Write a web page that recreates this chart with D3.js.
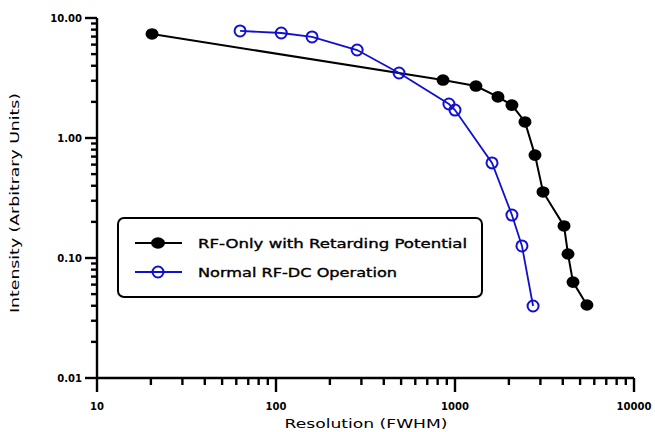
<!DOCTYPE html>
<html><head><meta charset="utf-8">
<script src="https://cdn.jsdelivr.net/npm/d3@7"></script>
<style>body{margin:0;background:#fff}svg{display:block}text{font-family:"DejaVu Sans",sans-serif}</style>
</head><body><svg id="c" width="655" height="432"></svg>
<script>
const seriesNames = ["RF-Only with Retarding Potential", "Normal RF-DC Operation"];
const seriesColors = ["#000000", "#1010d0"];
const rfOnlyX = [20.3, 857, 1309, 1738, 2080, 2460, 2798, 3103, 4065, 4278, 4563, 5458];
const rfOnlyY = [7.36, 3.04, 2.71, 2.20, 1.88, 1.36, 0.72, 0.355, 0.185, 0.108, 0.063, 0.0406];
const rfdcX = [63, 107, 159, 284, 487, 925, 1000, 1610, 2080, 2366, 2730];
const rfdcY = [7.8, 7.5, 6.95, 5.41, 3.48, 1.92, 1.71, 0.62, 0.228, 0.126, 0.0398];
const xTickValues = [10, 100, 1000, 10000];
const xTickLabels = ["10", "100", "1000", "10000"];
const yTickValues = [0.01, 0.1, 1, 10];
const yTickLabels = ["0.01", "0.10", "1.00", "10.00"];
const xTitle = "Resolution (FWHM)";
const yTitle = "Intensity (Arbitrary Units)";

const svg = d3.select("#c");
const x = d3.scaleLog().domain([10, 10000]).range([97, 634]);
const y = d3.scaleLog().domain([0.01, 10]).range([378, 18]);

const minorX = [], minorY = [];
for (let d = 10; d < 10000; d *= 10) for (let k = 2; k <= 9; k++) minorX.push(d * k);
for (let d = 0.01; d < 9; d *= 10) for (let k = 2; k <= 9; k++) minorY.push(+(d * k).toPrecision(3));

const x0 = x.range()[0], y0 = y.range()[0];
const ax = svg.append("g").attr("stroke", "#000").attr("stroke-width", 2.4);
ax.append("line").attr("x1", x0).attr("x2", x.range()[1]).attr("y1", y0).attr("y2", y0);
ax.append("line").attr("x1", x0).attr("x2", x0).attr("y1", y.range()[1]).attr("y2", y0);
ax.selectAll(".xm").data(minorX).enter().append("line")
  .attr("x1", d => x(d)).attr("x2", d => x(d)).attr("y1", y0).attr("y2", y0 + 7);
ax.selectAll(".xM").data(xTickValues).enter().append("line")
  .attr("x1", d => x(d)).attr("x2", d => x(d)).attr("y1", y0).attr("y2", y0 + 14);
ax.selectAll(".ym").data(minorY).enter().append("line")
  .attr("x1", x0 - 6).attr("x2", x0).attr("y1", d => y(d)).attr("y2", d => y(d));
ax.selectAll(".yM").data(yTickValues).enter().append("line")
  .attr("x1", x0 - 12).attr("x2", x0).attr("y1", d => y(d)).attr("y2", d => y(d));
svg.selectAll(".xl").data(xTickValues).enter().append("text")
  .attr("x", d => x(d)).attr("y", y0 + 32).attr("text-anchor", "middle")
  .attr("font-size", 10).attr("font-weight", "bold").text((d, i) => xTickLabels[i]);
svg.selectAll(".yl").data(yTickValues).enter().append("text")
  .attr("x", x0 - 15).attr("y", d => y(d) + 3.5).attr("text-anchor", "end")
  .attr("font-size", 10).attr("font-weight", "bold").text((d, i) => yTickLabels[i]);

svg.append("text").attr("x", 366).attr("y", 428).attr("text-anchor", "middle")
  .attr("font-size", 13).attr("textLength", 163).attr("lengthAdjust", "spacingAndGlyphs").text(xTitle);
svg.append("text").attr("transform", "translate(19,203) rotate(-90)").attr("text-anchor", "middle")
  .attr("font-size", 13).attr("textLength", 220).attr("lengthAdjust", "spacingAndGlyphs").text(yTitle);

const line = d3.line().x(d => x(d[0])).y(d => y(d[1]));
const black = rfOnlyX.map((v, i) => [v, rfOnlyY[i]]);
const blue = rfdcX.map((v, i) => [v, rfdcY[i]]);

svg.append("path").datum(black).attr("d", line).attr("fill", "none").attr("stroke", seriesColors[0]).attr("stroke-width", 2);
svg.selectAll(".pb").data(black).enter().append("ellipse").attr("cx", d => x(d[0])).attr("cy", d => y(d[1]))
  .attr("rx", 6.5).attr("ry", 5.8).attr("fill", seriesColors[0]);
svg.append("path").datum(blue).attr("d", line).attr("fill", "none").attr("stroke", seriesColors[1]).attr("stroke-width", 1.8);
svg.selectAll(".pu").data(blue).enter().append("circle").attr("cx", d => x(d[0])).attr("cy", d => y(d[1]))
  .attr("r", 5.5).attr("fill", "none").attr("stroke", seriesColors[1]).attr("stroke-width", 2);

const lg = svg.append("g");
lg.append("rect").attr("x", 118).attr("y", 218).attr("width", 364).attr("height", 79).attr("rx", 6)
  .attr("fill", "#fff").attr("stroke", "#000").attr("stroke-width", 2);
const legY = [243, 272];
const textLens = [269, 199];
seriesNames.forEach((n, i) => {
  lg.append("line").attr("x1", 135).attr("x2", 182).attr("y1", legY[i]).attr("y2", legY[i]).attr("stroke", seriesColors[i]).attr("stroke-width", 2);
  if (i === 0) lg.append("ellipse").attr("cx", 158).attr("cy", legY[i]).attr("rx", 7).attr("ry", 5.8).attr("fill", seriesColors[0]);
  else lg.append("circle").attr("cx", 158).attr("cy", legY[i]).attr("r", 5.5).attr("fill", "none").attr("stroke", seriesColors[1]).attr("stroke-width", 2);
  lg.append("text").attr("x", 198).attr("y", legY[i] + 4.5).attr("font-size", 12).attr("stroke", "#000").attr("stroke-width", 0.35)
    .attr("textLength", textLens[i]).attr("lengthAdjust", "spacingAndGlyphs").text(n);
});
</script></body></html>
